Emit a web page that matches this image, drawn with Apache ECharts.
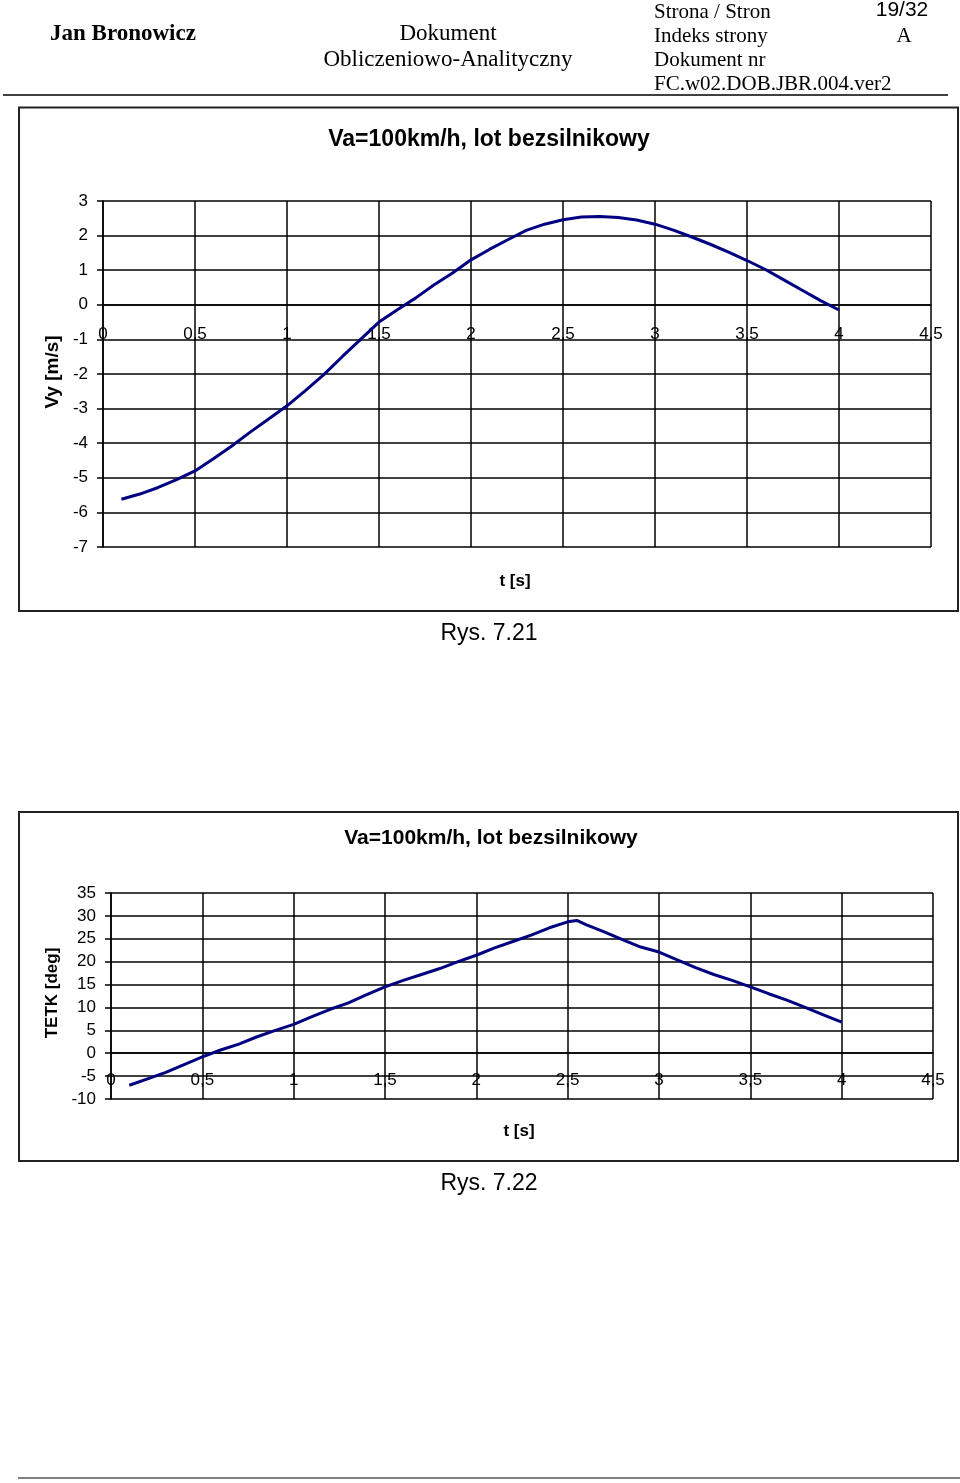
<!DOCTYPE html>
<html>
<head>
<meta charset="utf-8">
<script src="https://cdn.jsdelivr.net/npm/echarts@6/dist/echarts.min.js"></script>
<style>
html,body{margin:0;padding:0;background:#fff;}
#c{width:960px;height:1483px;}
</style>
</head>
<body>
<div id="c"></div>
<script>
// ---- data ----
const chartTitle = "Va=100km/h, lot bezsilnikowy";
const xTicks = [0, 0.5, 1, 1.5, 2, 2.5, 3, 3.5, 4, 4.5];
const vyTicks = [-7, -6, -5, -4, -3, -2, -1, 0, 1, 2, 3];
const tetkTicks = [-10, -5, 0, 5, 10, 15, 20, 25, 30, 35];

const tVy = [0.1,0.2,0.3,0.4,0.5,0.6,0.7,0.8,0.9,1.0,1.1,1.2,1.3,1.4,1.5,1.6,1.7,1.8,1.9,2.0,
             2.1,2.2,2.3,2.4,2.5,2.6,2.7,2.8,2.9,3.0,3.1,3.2,3.3,3.4,3.5,3.6,3.7,3.8,3.9,4.0];
const vy  = [-5.62,-5.47,-5.28,-5.05,-4.80,-4.45,-4.08,-3.68,-3.30,-2.92,-2.48,-2.02,-1.50,-1.00,-0.50,-0.14,0.20,0.58,0.92,1.30,
             1.60,1.88,2.15,2.33,2.46,2.54,2.55,2.52,2.45,2.33,2.16,1.96,1.75,1.52,1.28,1.02,0.72,0.42,0.12,-0.15];

const tTetk = [0.1,0.2,0.3,0.4,0.5,0.6,0.7,0.8,0.9,1.0,1.1,1.2,1.3,1.4,1.5,1.6,1.7,1.8,1.9,2.0,
               2.1,2.2,2.3,2.4,2.5,2.55,2.6,2.7,2.8,2.9,3.0,3.1,3.2,3.3,3.4,3.5,3.6,3.7,3.8,3.9,4.0];
const tetk  = [-7.0,-5.6,-4.2,-2.5,-0.8,0.7,2.0,3.6,5.0,6.3,8.0,9.6,11.0,12.8,14.5,15.9,17.2,18.5,20.0,21.4,
               23.0,24.4,25.8,27.4,28.7,29.0,28.1,26.5,24.8,23.2,22.1,20.4,18.7,17.2,15.9,14.5,13.0,11.6,10.0,8.4,6.8];

// ---- chart ----
const SANS = '"Liberation Sans", Arial, sans-serif';
const SERIF = '"Liberation Serif", "Times New Roman", serif';
const fmt = v => String(v).replace('.', ',');

const grids = [
  {left: 103, top: 201, width: 828, height: 346},
  {left: 111, top: 893, width: 822, height: 206}
];

function xAxisCfg(gi, margin) {
  return {
    type: 'value', gridIndex: gi, min: xTicks[0], max: xTicks[xTicks.length-1], interval: 0.5,
    axisLine: {show: true, onZero: false, lineStyle: {color: '#000', width: 1.5}},
    axisTick: {show: false},
    axisLabel: {color: '#000', fontFamily: SANS, fontSize: 17, margin: margin, formatter: fmt, showMaxLabel: true, showMinLabel: true},
    splitLine: {show: true, lineStyle: {color: '#000', width: 1.5}}
  };
}
function yAxisCfg(gi, ticks, step, margin) {
  return {
    type: 'value', gridIndex: gi, min: ticks[0], max: ticks[ticks.length-1], interval: step,
    axisLine: {show: true, onZero: false, lineStyle: {color: '#000', width: 1.5}},
    axisTick: {show: true, length: 6, lineStyle: {color: '#000', width: 1.5}},
    axisLabel: {color: '#000', fontFamily: SANS, fontSize: 17, margin: margin},
    splitLine: {show: true, lineStyle: {color: '#000', width: 1.5}}
  };
}
function txt(x, y, text, font, align, rot) {
  return {type: 'text', x: x, y: y, rotation: rot || 0,
          style: {text: text, font: font, fill: '#000', align: align || 'left', verticalAlign: 'middle'}};
}

const chart = echarts.init(document.getElementById('c'), null, {renderer: 'canvas'});
chart.setOption({
  animation: false,
  backgroundColor: '#fff',
  grid: grids,
  xAxis: [xAxisCfg(0, 21), xAxisCfg(1, 19)],
  yAxis: [yAxisCfg(0, vyTicks, 1, 15), yAxisCfg(1, tetkTicks, 5, 15)],
  series: [
    {type: 'line', xAxisIndex: 0, yAxisIndex: 0, showSymbol: false, smooth: false,
     lineStyle: {color: '#000080', width: 3}, data: tVy.map((t, i) => [t, vy[i]])},
    {type: 'line', xAxisIndex: 1, yAxisIndex: 1, showSymbol: false, smooth: false,
     lineStyle: {color: '#000080', width: 3}, data: tTetk.map((t, i) => [t, tetk[i]])}
  ],
  graphic: [
    // header
    txt(50, 34, 'Jan Bronowicz', 'bold 23px ' + SERIF, 'left'),
    txt(448, 34, 'Dokument', '23px ' + SERIF, 'center'),
    txt(448, 60, 'Obliczeniowo-Analityczny', '23px ' + SERIF, 'center'),
    txt(654, 12, 'Strona / Stron', '21px ' + SERIF, 'left'),
    txt(654, 36, 'Indeks strony', '21px ' + SERIF, 'left'),
    txt(654, 60, 'Dokument nr', '21px ' + SERIF, 'left'),
    txt(654, 84, 'FC.w02.DOB.JBR.004.ver2', '21px ' + SERIF, 'left'),
    txt(902, 10, '19/32', '21px ' + SANS, 'center'),
    txt(904, 36, 'A', '21px ' + SERIF, 'center'),
    {type: 'line', shape: {x1: 3, y1: 95, x2: 948, y2: 95}, style: {stroke: '#000', lineWidth: 1.5}},
    // box 1
    {type: 'rect', shape: {x: 19, y: 107.5, width: 939, height: 503.5}, style: {fill: 'none', stroke: '#222', lineWidth: 2}},
    txt(489, 140, chartTitle, 'bold 23px ' + SANS, 'center'),
    txt(53, 372, 'Vy [m/s]', 'bold 19px ' + SANS, 'center', Math.PI / 2),
    txt(515, 581, 't [s]', 'bold 17px ' + SANS, 'center'),
    txt(489, 634, 'Rys. 7.21', '23px ' + SANS, 'center'),
    // box 2
    {type: 'rect', shape: {x: 19, y: 812, width: 939, height: 349}, style: {fill: 'none', stroke: '#222', lineWidth: 2}},
    txt(491, 838, chartTitle, 'bold 21px ' + SANS, 'center'),
    txt(52, 993, 'TETK [deg]', 'bold 17px ' + SANS, 'center', Math.PI / 2),
    txt(519, 1131, 't [s]', 'bold 17px ' + SANS, 'center'),
    txt(489, 1184, 'Rys. 7.22', '23px ' + SANS, 'center'),
    // footer line
    {type: 'line', shape: {x1: 18, y1: 1478, x2: 960, y2: 1478}, style: {stroke: '#000', lineWidth: 1}}
  ]
});

// move each x axis (line + labels) up to the y = 0 level, as in the original (axis crosses at 0)
const offsets = grids.map((g, i) => {
  const y0 = chart.convertToPixel({yAxisIndex: i}, 0);
  return -((g.top + g.height) - y0);
});
chart.setOption({xAxis: [{offset: offsets[0]}, {offset: offsets[1]}]});
</script>
</body>
</html>
